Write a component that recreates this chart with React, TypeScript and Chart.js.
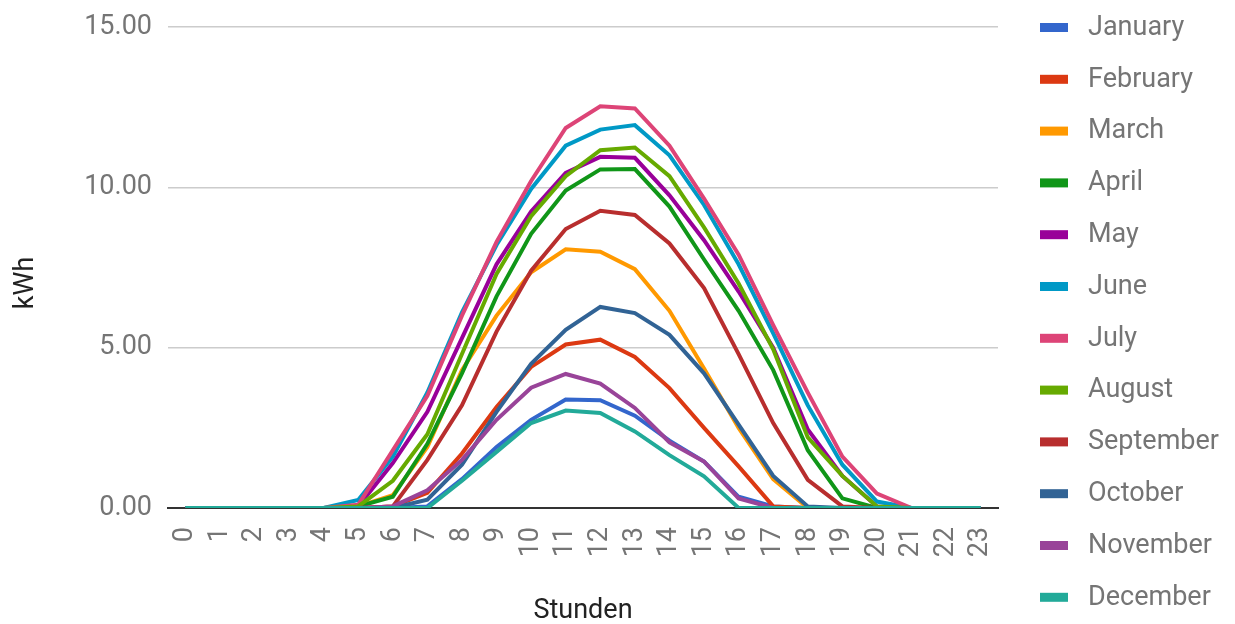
import React, { useEffect, useRef } from "react";
import { Chart, registerables } from "chart.js";

Chart.register(...registerables);

const hours: string[] = Array.from({ length: 24 }, (_, i) => String(i));

const months: string[] = [
  "January", "February", "March", "April", "May", "June",
  "July", "August", "September", "October", "November", "December",
];

const colors: string[] = [
  "#3366cc", "#dc3912", "#ff9900", "#109618", "#990099", "#0099c6",
  "#dd4477", "#66aa00", "#b82e2e", "#316395", "#994499", "#22aa99",
];

//                 0  1  2  3  4  5     6     7     8     9     10    11     12     13     14     15    16    17    18    19    20    21 22 23
const january   = [0, 0, 0, 0, 0, 0,    0,    0.05, 0.9,  1.9,  2.75, 3.38,  3.36,  2.88,  2.1,   1.45, 0.35, 0.05, 0,    0,    0,    0, 0, 0];
const february  = [0, 0, 0, 0, 0, 0,    0.05, 0.47, 1.7,  3.15, 4.4,  5.1,   5.25,  4.71,  3.74,  2.5,  1.3,  0.05, 0,    0,    0,    0, 0, 0];
const march     = [0, 0, 0, 0, 0, 0.05, 0.4,  1.9,  4.3,  6.0,  7.35, 8.07,  7.99,  7.45,  6.15,  4.35, 2.5,  0.9,  0,    0,    0,    0, 0, 0];
const april     = [0, 0, 0, 0, 0, 0.05, 0.35, 2.0,  4.2,  6.6,  8.55, 9.9,   10.56, 10.57, 9.4,   7.75, 6.15, 4.3,  1.8,  0.3,  0,    0, 0, 0];
const may       = [0, 0, 0, 0, 0, 0.05, 1.4,  3.0,  5.3,  7.6,  9.25, 10.45, 10.95, 10.92, 9.75,  8.35, 6.75, 5.0,  2.45, 1.0,  0.05, 0, 0, 0];
const june      = [0, 0, 0, 0, 0, 0.25, 1.6,  3.6,  6.1,  8.2,  9.95, 11.3,  11.8,  11.94, 11.0,  9.45, 7.6,  5.45, 3.2,  1.35, 0.2,  0, 0, 0];
const july      = [0, 0, 0, 0, 0, 0.1,  1.8,  3.5,  6.0,  8.3,  10.2, 11.85, 12.53, 12.46, 11.3,  9.65, 7.9,  5.7,  3.6,  1.6,  0.45, 0, 0, 0];
const august    = [0, 0, 0, 0, 0, 0.05, 0.85, 2.3,  4.8,  7.3,  9.1,  10.35, 11.16, 11.24, 10.35, 8.75, 7.0,  4.95, 2.2,  1.0,  0.05, 0, 0, 0];
const september = [0, 0, 0, 0, 0, 0,    0.05, 1.5,  3.2,  5.5,  7.4,  8.7,   9.27,  9.14,  8.25,  6.86, 4.8,  2.65, 0.88, 0.05, 0,    0, 0, 0];
const october   = [0, 0, 0, 0, 0, 0,    0,    0.26, 1.35, 3.0,  4.5,  5.56,  6.27,  6.08,  5.4,   4.2,  2.6,  1.0,  0.05, 0,    0,    0, 0, 0];
const november  = [0, 0, 0, 0, 0, 0,    0.05, 0.55, 1.5,  2.75, 3.75, 4.18,  3.88,  3.12,  2.05,  1.45, 0.3,  0,    0,    0,    0,    0, 0, 0];
const december  = [0, 0, 0, 0, 0, 0,    0,    0,    0.85, 1.75, 2.65, 3.04,  2.96,  2.39,  1.65,  0.99, 0,    0,    0,    0,    0,    0, 0, 0];

const series: number[][] = [
  january, february, march, april, may, june,
  july, august, september, october, november, december,
];

const yTicks: number[] = [0, 5, 10, 15];

const FONT = "Roboto";
const TICK_COLOR = "#757575";
const TITLE_COLOR = "#222222";

const customPlugin = {
  id: "customLegendTitles",
  afterDraw(chart: any) {
    const ctx = chart.ctx as CanvasRenderingContext2D;
    const area = chart.chartArea;
    ctx.save();
    // legend
    ctx.font = `27px ${FONT}`;
    ctx.textBaseline = "middle";
    ctx.textAlign = "left";
    const ds = chart.data.datasets;
    const startY = 27;
    const step = 51.8;
    const swX = 1040;
    for (let i = 0; i < ds.length; i++) {
      const cy = startY + i * step;
      ctx.fillStyle = ds[i].borderColor;
      ctx.fillRect(swX, cy - 4, 28, 9);
      ctx.fillStyle = TICK_COLOR;
      ctx.fillText(ds[i].label, swX + 48, cy + 1);
    }
    // axis titles
    ctx.fillStyle = TITLE_COLOR;
    ctx.textAlign = "center";
    ctx.textBaseline = "alphabetic";
    ctx.font = `27px ${FONT}`;
    ctx.fillText("Stunden", (area.left + area.right) / 2, 618);
    ctx.translate(33, 283);
    ctx.rotate(-Math.PI / 2);
    ctx.fillText("kWh", 0, 0);
    ctx.restore();
  },
};

export default function App() {
  const canvasRef = useRef<HTMLCanvasElement | null>(null);

  useEffect(() => {
    document.body.style.margin = "0";
    const canvas = canvasRef.current;
    if (!canvas) return;
    const chart = new Chart(canvas, {
      type: "line",
      data: {
        labels: hours,
        datasets: series.map((values, i) => ({
          label: months[i],
          data: values,
          borderColor: colors[i],
          backgroundColor: colors[i],
          borderWidth: 4,
          pointRadius: 0,
          pointHoverRadius: 0,
          tension: 0,
          fill: false,
          order: series.length - 1 - i,
        })),
      },
      options: {
        animation: false,
        responsive: false,
        maintainAspectRatio: false,
        layout: { padding: { top: 27, right: 237, left: 0, bottom: 0 } },
        plugins: {
          legend: { display: false },
          tooltip: { enabled: false },
          title: { display: false },
        },
        scales: {
          x: {
            type: "category",
            offset: true,
            grid: { display: false },
            border: { display: true, color: "#333333", width: 2 },
            ticks: {
              autoSkip: false,
              minRotation: 90,
              maxRotation: 90,
              padding: 11,
              color: TICK_COLOR,
              font: { family: FONT, size: 27 },
            },
            afterFit(scale: any) {
              scale.height = 116;
              scale.paddingTop = 0;
              scale.paddingBottom = 0;
            },
          },
          y: {
            min: 0,
            max: 15,
            afterBuildTicks(scale: any) {
              scale.ticks = yTicks.map((v) => ({ value: v }));
            },
            ticks: {
              padding: 16,
              color: TICK_COLOR,
              font: { family: FONT, size: 27 },
              callback: (v: any) => Number(v).toFixed(2),
            },
            grid: {
              drawTicks: false,
              color: (c: any) => (c.tick && c.tick.value === 0 ? "rgba(0,0,0,0)" : "#cccccc"),
              lineWidth: 1.5,
            },
            border: { display: false },
            afterFit(scale: any) {
              scale.width = 168;
              scale.paddingTop = 0;
              scale.paddingBottom = 0;
            },
          },
        },
      },
      plugins: [customPlugin],
    });
    let alive = true;
    if ((document as any).fonts && (document as any).fonts.ready) {
      (document as any).fonts.ready.then(() => {
        if (alive) chart.update();
      });
    }
    return () => {
      alive = false;
      chart.destroy();
    };
  }, []);

  return (
    <div style={{ position: "fixed", left: 0, top: 0, width: 1235, height: 624, background: "#fff" }}>
      <canvas ref={canvasRef} width={1235} height={624} style={{ width: 1235, height: 624 }} />
    </div>
  );
}
